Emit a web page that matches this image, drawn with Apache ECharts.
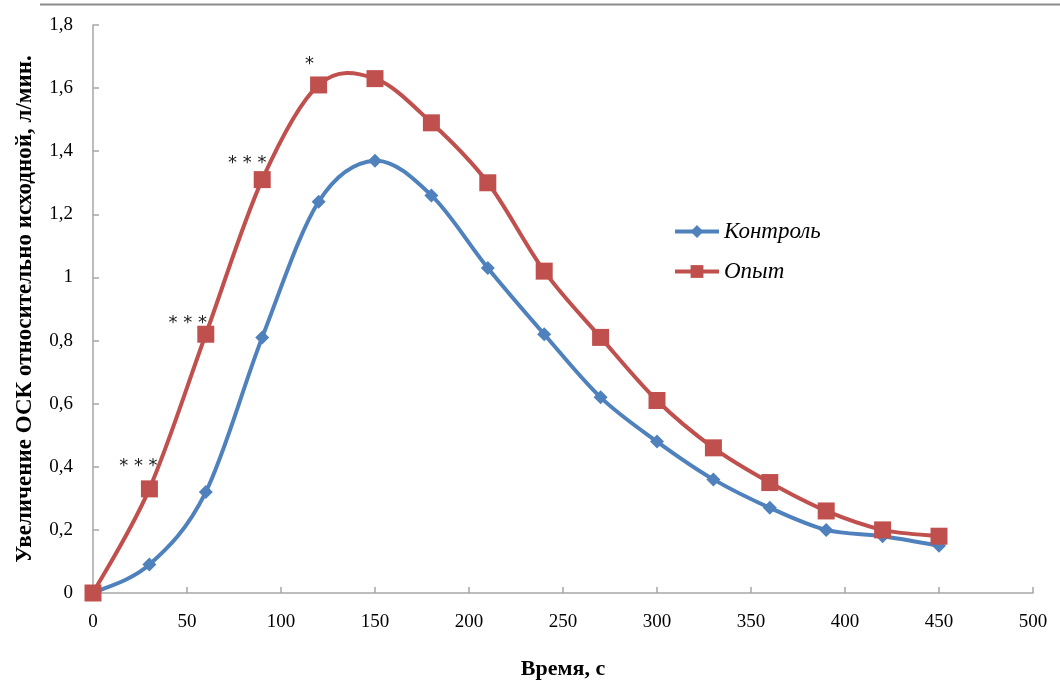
<!DOCTYPE html>
<html>
<head>
<meta charset="utf-8">
<script src="https://cdn.jsdelivr.net/npm/echarts@6/dist/echarts.min.js"></script>
<style>
  html, body { margin: 0; padding: 0; background: #fff; }
  #chart { width: 1060px; height: 686px; }
</style>
</head>
<body>
<div id="chart"></div>
<script>
// Time points, s
const times = [0, 30, 60, 90, 120, 150, 180, 210, 240, 270, 300, 330, 360, 390, 420, 450];
// Increase of volumetric flow relative to baseline, l/min
const control = [0, 0.09, 0.32, 0.81, 1.24, 1.37, 1.26, 1.03, 0.82, 0.62, 0.48, 0.36, 0.27, 0.20, 0.18, 0.15];
const experiment = [0, 0.33, 0.82, 1.31, 1.61, 1.63, 1.49, 1.30, 1.02, 0.81, 0.61, 0.46, 0.35, 0.26, 0.20, 0.18];
// Significance marks for the experiment series
const significance = ['', '***', '***', '***', '*', '', '', '', '', '', '', '', '', '', '', ''];
const seriesNames = ['Контроль', 'Опыт'];
const xTicks = [0, 50, 100, 150, 200, 250, 300, 350, 400, 450, 500];
const yTicks = [0, 0.2, 0.4, 0.6, 0.8, 1, 1.2, 1.4, 1.6, 1.8];

const BLUE = '#4F81BD';
const RED = '#C0504D';
const SERIF = '"Liberation Serif", "DejaVu Serif", serif';
const LINE_W = 4;

// label offsets for the significance marks, keyed by point index
const starOffsets = {1: [-11, 0], 2: [-18, 12], 3: [-15, 6], 4: [-9, 2]};

// Smooth curve through the points: each segment is a cubic Bezier whose
// control points follow the neighbouring points (Catmull-Rom style, 1/6).
function smoothCurve(values, color) {
  return function (params, api) {
    const i = params.dataIndex;
    const n = times.length;
    if (i >= n - 1) return null;
    const p = k => api.coord([times[Math.max(0, Math.min(n - 1, k))], values[Math.max(0, Math.min(n - 1, k))]]);
    const p0 = p(i - 1), p1 = p(i), p2 = p(i + 1), p3 = p(i + 2);
    const t = 1 / 6;
    return {
      type: 'bezierCurve',
      shape: {
        x1: p1[0], y1: p1[1],
        cpx1: p1[0] + (p2[0] - p0[0]) * t, cpy1: p1[1] + (p2[1] - p0[1]) * t,
        cpx2: p2[0] - (p3[0] - p1[0]) * t, cpy2: p2[1] - (p3[1] - p1[1]) * t,
        x2: p2[0], y2: p2[1]
      },
      style: { stroke: color, lineWidth: LINE_W, fill: null, lineCap: 'round' },
      silent: true
    };
  };
}

const chart = echarts.init(document.getElementById('chart'), null, { renderer: 'canvas' });

chart.setOption({
  animation: false,
  backgroundColor: '#fff',
  graphic: [
    { type: 'line', shape: { x1: 40, y1: 4.5, x2: 1060, y2: 4.5 }, style: { stroke: '#8c8c8c', lineWidth: 2 } }
  ],
  grid: { left: 93, right: 27, top: 25, bottom: 93 },
  legend: {
    orient: 'vertical',
    left: 668,
    top: 215,
    itemWidth: 44,
    itemHeight: 16,
    itemGap: 17,
    textStyle: { fontFamily: SERIF, fontStyle: 'italic', fontSize: 23, color: '#000' },
    data: [
      { name: seriesNames[0], lineStyle: { opacity: 1, width: LINE_W, color: BLUE } },
      { name: seriesNames[1], lineStyle: { opacity: 1, width: LINE_W, color: RED } }
    ]
  },
  xAxis: {
    type: 'value',
    min: 0, max: 500, interval: 50,
    name: 'Время, с',
    nameLocation: 'middle',
    nameGap: 65,
    nameTextStyle: { fontFamily: SERIF, fontWeight: 'bold', fontSize: 22, color: '#000' },
    axisLine: { lineStyle: { color: '#a6a6a6', width: 1.5 } },
    axisTick: { show: true, inside: true, length: 6, lineStyle: { color: '#a6a6a6', width: 1.5 } },
    axisLabel: {
      margin: 20,
      fontFamily: SERIF, fontSize: 19, color: '#000',
      customValues: xTicks
    },
    splitLine: { show: false }
  },
  yAxis: {
    type: 'value',
    min: 0, max: 1.8, interval: 0.2,
    name: 'Увеличение ОСК относительно исходной, л/мин.',
    nameLocation: 'middle',
    nameGap: 56,
    nameTextStyle: { fontFamily: SERIF, fontWeight: 'bold', fontSize: 23, color: '#000' },
    axisLine: { show: true, lineStyle: { color: '#a6a6a6', width: 1.5 } },
    axisTick: { show: true, inside: true, length: 6, lineStyle: { color: '#a6a6a6', width: 1.5 } },
    axisLabel: {
      margin: 20,
      fontFamily: SERIF, fontSize: 19, color: '#000',
      formatter: v => String(Math.round(v * 10) / 10).replace('.', ',')
    },
    splitLine: { show: false }
  },
  series: [
    {
      name: 'curve-control',
      type: 'custom',
      renderItem: smoothCurve(control, BLUE),
      data: times.map((t, i) => [t, control[i]]),
      z: 2
    },
    {
      name: seriesNames[0],
      type: 'line',
      symbol: 'diamond',
      symbolSize: 14,
      color: BLUE,
      lineStyle: { width: LINE_W, color: BLUE, opacity: 0 },
      itemStyle: { color: BLUE },
      data: times.map((t, i) => [t, control[i]]),
      z: 3
    },
    {
      name: 'curve-experiment',
      type: 'custom',
      renderItem: smoothCurve(experiment, RED),
      data: times.map((t, i) => [t, experiment[i]]),
      z: 4
    },
    {
      name: seriesNames[1],
      type: 'line',
      symbol: 'rect',
      symbolSize: 17,
      color: RED,
      lineStyle: { width: LINE_W, color: RED, opacity: 0 },
      itemStyle: { color: RED },
      data: times.map((t, i) => {
        const item = { value: [t, experiment[i]] };
        if (significance[i]) {
          const off = starOffsets[i] || [-12, 0];
          item.label = {
            show: true,
            position: 'top',
            formatter: () => significance[i].split('').join(' '),
            offset: off,
            fontFamily: '"DejaVu Sans", sans-serif',
            fontSize: 18,
            color: '#222'
          };
        }
        return item;
      }),
      z: 5
    }
  ]
});
</script>
</body>
</html>
